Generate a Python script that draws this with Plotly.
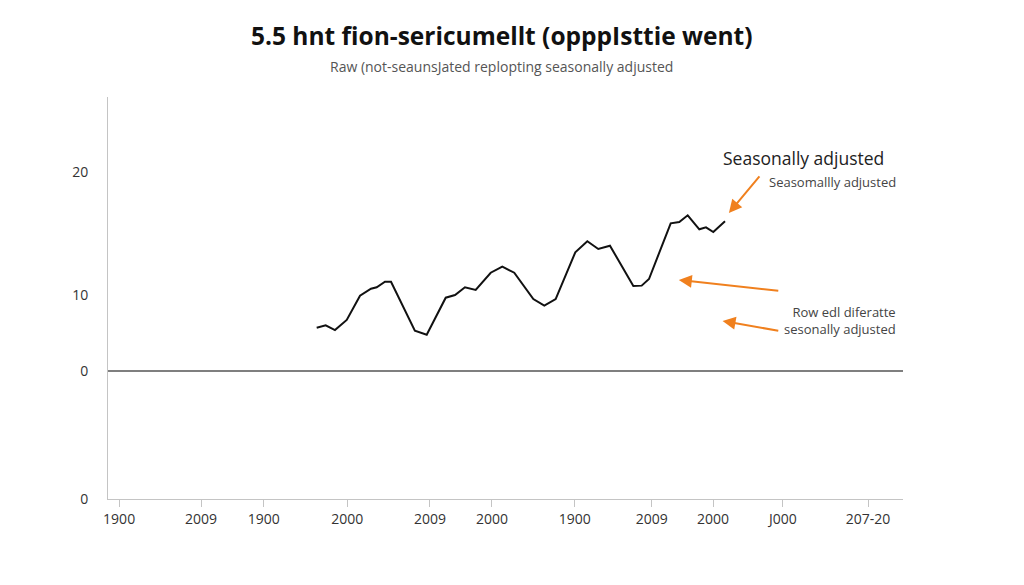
import plotly.graph_objects as go

# series (x in axis units 0-100, y in value units)
series_x = [26.25, 27.38, 28.55, 30.03, 31.7, 33.08, 33.8, 34.84, 35.6, 38.6,
            40.09, 42.48, 43.65, 44.9, 46.25, 48.14, 49.6, 51.1, 53.5, 54.88,
            56.31, 58.78, 60.29, 61.67, 63.14, 66.08, 67.13, 68.05, 70.78, 71.86,
            72.92, 74.38, 75.22, 76.14, 77.61]
series_y = [7.34, 7.54, 7.15, 7.97, 9.94, 10.51, 10.63, 11.08, 11.08, 7.1,
            6.77, 9.78, 10.0, 10.63, 10.41, 11.81, 12.3, 11.81, 9.67, 9.13,
            9.67, 13.47, 14.37, 13.74, 14.01, 10.73, 10.76, 11.3, 15.83, 15.93,
            16.48, 15.34, 15.5, 15.12, 15.99]

x_tick_vals = [1.4, 11.7, 19.6, 30.1, 40.5, 48.3, 58.7, 68.4, 76.1, 84.9, 95.6]
x_tick_text = ["1900", "2009", "1900", "2000", "2009", "2000", "1900", "2009", "2000", "J000", "207-20"]

y_tick_vals = [20, 10, 3.82, -6.59]
y_tick_text = ["20", "10", "0", "0"]
baseline_y = 3.82

# arrows: (tip x, tip y, tail x, tail y)
arrows = [
    (78.1, 16.67, 82.1, 19.76),
    (71.8, 11.22, 84.5, 10.33),
    (77.3, 7.89, 84.5, 7.07),
]

title_text = "<b>5.5 hnt fion-sericumellt (opppIsttie went)</b>"
subtitle_text = "Raw (not-seaunsJated replopting seasonally adjusted"

orange = "#f0801e"

fig = go.Figure()
fig.add_trace(go.Scatter(x=series_x, y=series_y, mode="lines",
                         line=dict(color="#111111", width=2), showlegend=False,
                         hoverinfo="skip"))

fig.add_shape(type="line", xref="paper", x0=0, x1=1, yref="y", y0=baseline_y, y1=baseline_y,
              line=dict(color="#555555", width=1.3))

annotations = []
for tx, ty, sx, sy in arrows:
    annotations.append(dict(x=tx, y=ty, ax=sx, ay=sy, xref="x", yref="y", axref="x", ayref="y",
                            text="", showarrow=True, arrowhead=2, arrowsize=1.3, arrowwidth=2,
                            arrowcolor=orange, standoff=0))
annotations += [
    dict(x=0.495, y=1.0, xref="paper", yref="paper", yanchor="middle", yshift=62, showarrow=False,
         text=title_text, font=dict(family="Open Sans", size=24.5, color="#111111")),
    dict(x=0.495, y=1.0, xref="paper", yref="paper", yanchor="middle", yshift=31, showarrow=False,
         text=subtitle_text, font=dict(family="Open Sans", size=14, color="#555555")),
    dict(x=87.5, y=21.14, xref="x", yref="y", showarrow=False, text="Seasonally adjusted",
         font=dict(family="Open Sans", size=17.5, color="#222222")),
    dict(x=99.4, y=19.19, xref="x", yref="y", xanchor="right", showarrow=False,
         text="Seasomallly adjusted", font=dict(family="Open Sans", size=13, color="#444444")),
    dict(x=99.4, y=7.9, xref="x", yref="y", xanchor="right", align="right", showarrow=False,
         text="Row edl diferatte<br>sesonally adjusted",
         font=dict(family="Open Sans", size=13, color="#444444")),
]

fig.update_layout(
    width=1024, height=585,
    margin=dict(l=100, r=129, t=89, b=94),
    paper_bgcolor="white", plot_bgcolor="white",
    font=dict(family="Open Sans", color="#333333"),
    annotations=annotations,
    showlegend=False,
)
fig.update_xaxes(range=[0, 100], tickvals=x_tick_vals, ticktext=x_tick_text,
                 showgrid=False, zeroline=False, showline=True, linecolor="#c4c4c4",
                 ticks="outside", ticklen=7, tickcolor="#c4c4c4",
                 tickfont=dict(size=14, color="#333333"))
fig.update_yaxes(range=[-6.59, 26.1], tickvals=y_tick_vals, ticktext=y_tick_text,
                 showgrid=False, zeroline=False, showline=True, linecolor="#c4c4c4",
                 ticks="", ticklabelstandoff=16,
                 tickfont=dict(size=14, color="#333333"))

fig.write_html("out.html")
